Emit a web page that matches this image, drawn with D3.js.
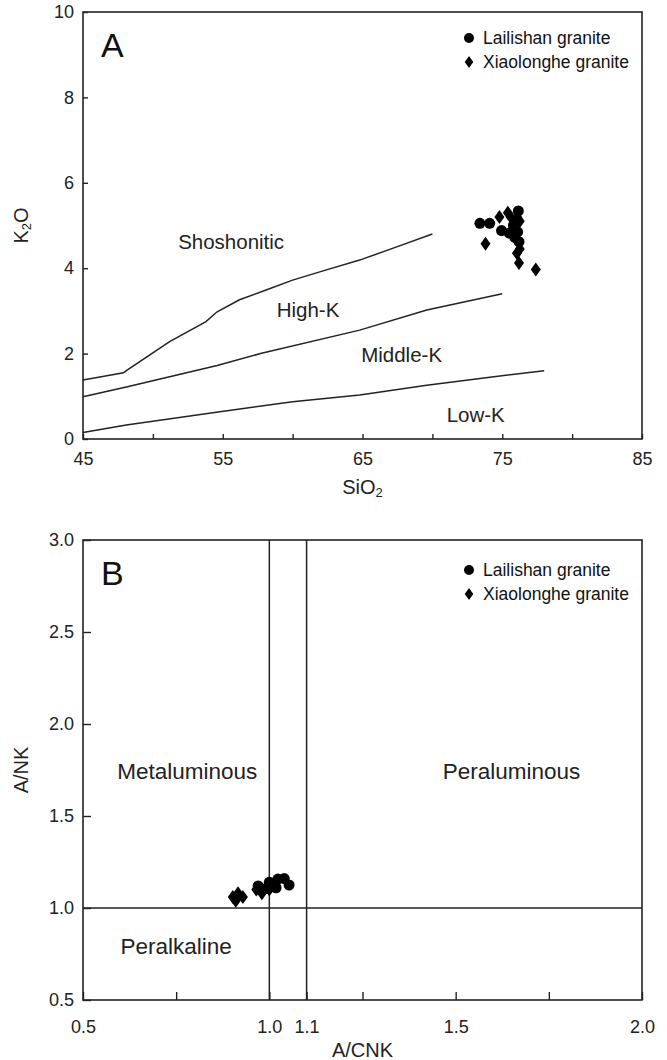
<!DOCTYPE html>
<html>
<head>
<meta charset="utf-8">
<script src="https://cdn.jsdelivr.net/npm/d3@7"></script>
<style>
  body { margin: 0; background: #fff; }
  svg { display: block; font-family: "Liberation Sans", Arial, sans-serif; }
  .frame { fill: none; stroke: #222; stroke-width: 1.6; }
  .axis path { display: none; }
  .axis line { stroke: #222; stroke-width: 1.4; }
  .axis text { font-size: 18px; fill: #222; }
  .curve { fill: none; stroke: #222; stroke-width: 1.5; }
</style>
</head>
<body>
<svg id="chart" width="667" height="1060"></svg>
<script>
// ---- panel A: K2O vs SiO2 ----
const sio2Ticks = [45, 50, 55, 60, 65, 70, 75, 80, 85];
const sio2Labels = [45, 55, 65, 75, 85];
const k2oTicks = [0, 2, 4, 6, 8, 10];

// series boundaries
const lineShoHighK = [[45,1.38],[47.9,1.55],[48.1,1.6],[51.2,2.28],[53.8,2.75],[54.6,2.98],[56.2,3.26],[58.1,3.49],[60,3.72],[62,3.92],[64.8,4.19],[67.2,4.47],[70,4.8]];
const lineHighMidK = [[45,0.99],[48.1,1.22],[54.6,1.72],[57.7,2.0],[64.8,2.55],[69.6,3.02],[75,3.4]];
const lineMidLowK = [[45,0.15],[48.1,0.33],[54.8,0.64],[60,0.87],[64.8,1.03],[69.6,1.26],[74.4,1.46],[78,1.6]];

const fieldsA = [
  { name: 'Shoshonitic', x: 55.6, y: 4.45 },
  { name: 'High-K', x: 61.1, y: 2.85 },
  { name: 'Middle-K', x: 67.8, y: 1.8 },
  { name: 'Low-K', x: 73.1, y: 0.4 }
];

const lailishanA = [[73.4,5.05],[74.1,5.05],[74.95,4.88],[75.5,4.82],[76.15,5.34],[76.05,5.15],[75.8,5.0],[75.9,4.72],[76.2,4.62],[76.1,4.85]];
const xiaolongheA = [[73.8,4.57],[74.8,5.2],[75.4,5.3],[76.25,5.1],[75.6,5.2],[76.05,4.35],[76.25,4.45],[76.2,4.12],[77.4,3.97]];

// ---- panel B: A/NK vs A/CNK ----
const acnkTicks = [0.5, 0.75, 1.0, 1.1, 1.25, 1.5, 1.75, 2.0];
const acnkLabels = [0.5, 1.0, 1.1, 1.5, 2.0];
const ankTicks = [0.5, 1.0, 1.5, 2.0, 2.5, 3.0];
const acnkDividers = [1.0, 1.1];
const ankDivider = 1.0;

const fieldsB = [
  { name: 'Metaluminous', x: 0.78, y: 1.7 },
  { name: 'Peraluminous', x: 1.65, y: 1.7 },
  { name: 'Peralkaline', x: 0.75, y: 0.75 }
];

const lailishanB = [[0.97,1.12],[0.99,1.105],[1.007,1.135],[1.023,1.157],[1.04,1.16],[1.053,1.125],[1.018,1.11],[1.0,1.14]];
const xiaolongheB = [[0.902,1.06],[0.916,1.08],[0.929,1.06],[0.91,1.04],[0.98,1.08],[1.0,1.10],[0.965,1.1]];

const legendNames = ['Lailishan granite', 'Xiaolonghe granite'];

const diamond = 'M0,-7L5,0L0,7L-5,0Z';

class Panel {
  constructor(_config) {
    this.config = _config;
    this.initVis();
  }

  initVis() {
    let vis = this;
    let c = vis.config;
    vis.g = d3.select('#chart').append('g');

    vis.xScale = d3.scaleLinear().domain(c.xDomain).range([c.left, c.right]);
    vis.yScale = d3.scaleLinear().domain(c.yDomain).range([c.bottom, c.top]);

    vis.xAxis = d3.axisBottom(vis.xScale)
      .tickValues(c.xTicks)
      .tickSize(-c.tick)
      .tickPadding(c.xPad)
      .tickFormat(d => c.xLabels.includes(d) ? c.xFormat(d) : '');
    vis.yAxis = d3.axisLeft(vis.yScale)
      .tickValues(c.yTicks)
      .tickSize(-c.tick)
      .tickPadding(9)
      .tickFormat(c.yFormat);

    vis.g.append('g').attr('class', 'axis')
      .attr('transform', `translate(0,${c.bottom})`)
      .call(vis.xAxis);
    vis.g.append('g').attr('class', 'axis')
      .attr('transform', `translate(${c.left},0)`)
      .call(vis.yAxis);

    vis.g.append('rect').attr('class', 'frame')
      .attr('x', c.left).attr('y', c.top)
      .attr('width', c.right - c.left).attr('height', c.bottom - c.top);

    // panel letter
    vis.g.append('text')
      .attr('x', c.left + 18).attr('y', c.top + 45)
      .attr('font-size', 34).attr('fill', '#111')
      .text(c.letter);

    vis.updateVis();
  }

  axisTitle(parts, x, y, rotate) {
    let t = this.g.append('text')
      .attr('text-anchor', 'middle')
      .attr('font-size', 20).attr('fill', '#222')
      .attr('transform', `translate(${x},${y})` + (rotate ? ' rotate(-90)' : ''));
    parts.forEach(p => {
      t.append('tspan')
        .attr('font-size', p.sub ? 13 : 20)
        .attr('baseline-shift', p.sub ? '-25%' : null)
        .text(p.t);
    });
  }

  updateVis() {
    let vis = this;
    let c = vis.config;
    let line = d3.line().x(d => vis.xScale(d[0])).y(d => vis.yScale(d[1]));

    (c.curves || []).forEach(cv => {
      vis.g.append('path').attr('class', 'curve').attr('d', line(cv));
    });

    (c.vlines || []).forEach(v => {
      vis.g.append('line').attr('class', 'curve')
        .attr('x1', vis.xScale(v)).attr('x2', vis.xScale(v))
        .attr('y1', c.top).attr('y2', c.bottom);
    });
    (c.hlines || []).forEach(h => {
      vis.g.append('line').attr('class', 'curve')
        .attr('x1', c.left).attr('x2', c.right)
        .attr('y1', vis.yScale(h)).attr('y2', vis.yScale(h));
    });

    vis.g.selectAll('.field')
      .data(c.fields)
      .enter()
      .append('text')
      .attr('class', 'field')
      .attr('x', d => vis.xScale(d.x))
      .attr('y', d => vis.yScale(d.y))
      .attr('text-anchor', 'middle')
      .attr('font-size', c.fieldSize).attr('fill', '#222')
      .text(d => d.name);

    vis.g.selectAll('.dot')
      .data(c.circles)
      .enter()
      .append('circle')
      .attr('class', 'dot')
      .attr('cx', d => vis.xScale(d[0]))
      .attr('cy', d => vis.yScale(d[1]))
      .attr('r', 5.5)
      .attr('fill', '#000');

    vis.g.selectAll('.dia')
      .data(c.diamonds)
      .enter()
      .append('path')
      .attr('class', 'dia')
      .attr('d', diamond)
      .attr('transform', d => `translate(${vis.xScale(d[0])},${vis.yScale(d[1])})`)
      .attr('fill', '#000');

    // legend
    let lx = 469, ly = c.top + c.legendDy;
    let leg = vis.g.append('g');
    leg.append('circle').attr('cx', lx).attr('cy', ly).attr('r', 5).attr('fill', '#000');
    leg.append('path').attr('d', diamond)
      .attr('transform', `translate(${lx},${ly + 24}) scale(0.85)`).attr('fill', '#000');
    legendNames.forEach((n, i) => {
      leg.append('text')
        .attr('x', lx + 14).attr('y', ly + 6 + i * 24)
        .attr('font-size', 17.5).attr('fill', '#111')
        .text(n);
    });

    vis.axisTitle(c.xTitle, (c.left + c.right) / 2, c.xTitleY, false);
    vis.axisTitle(c.yTitle, c.yTitleX + 6, (c.top + c.bottom) / 2, true);
  }
}

new Panel({
  letter: 'A',
  left: 83, right: 642, top: 12, bottom: 439, tick: 5,
  xDomain: [45, 85], yDomain: [0, 10],
  xTicks: sio2Ticks, xLabels: sio2Labels, xFormat: d3.format('d'), xPad: 13,
  yTicks: k2oTicks, yFormat: d3.format('d'),
  curves: [lineShoHighK, lineHighMidK, lineMidLowK],
  fields: fieldsA, fieldSize: 20.5, legendDy: 26,
  circles: lailishanA, diamonds: xiaolongheA,
  xTitle: [{ t: 'SiO' }, { t: '2', sub: true }], xTitleY: 494,
  yTitle: [{ t: 'K' }, { t: '2', sub: true }, { t: 'O' }], yTitleX: 22
});

new Panel({
  letter: 'B',
  left: 83, right: 642, top: 540, bottom: 1000, tick: 8,
  xDomain: [0.5, 2.0], yDomain: [0.5, 3.0],
  xTicks: acnkTicks, xLabels: acnkLabels, xFormat: d3.format('.1f'), xPad: 20,
  yTicks: ankTicks, yFormat: d3.format('.1f'),
  vlines: acnkDividers, hlines: [ankDivider],
  fields: fieldsB, fieldSize: 22.5, legendDy: 30,
  circles: lailishanB, diamonds: xiaolongheB,
  xTitle: [{ t: 'A/CNK' }], xTitleY: 1057,
  yTitle: [{ t: 'A/NK' }], yTitleX: 22
});
</script>
</body>
</html>
